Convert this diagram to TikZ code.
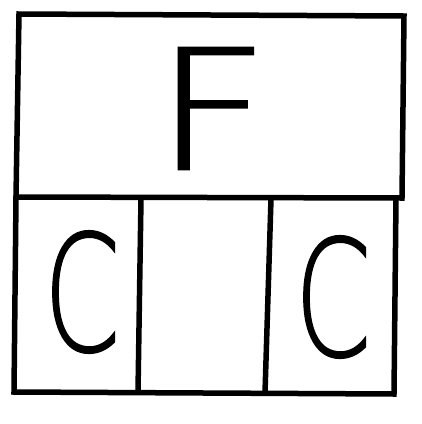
\documentclass[tikz,border=0pt]{standalone}
\usepackage{fontspec}
\newfontfamily\ffont[FakeBold=1.2]{DejaVu Sans ExtraLight}
\newfontfamily\cfont[FakeBold=1]{DejaVu Sans ExtraLight}
\tikzset{
  frame/.style={line width=5.5pt, line join=miter, line cap=rect},
  letter/.style={inner sep=0pt, outer sep=0pt, anchor=center}
}
\begin{document}
\begin{tikzpicture}[x=1pt,y=-1pt]
\useasboundingbox (0,0) rectangle (422,424);
% upper box
\draw[frame] (19,14) -- (404,16) -- (402,198) -- (16,197) -- cycle;
% lower box
\draw[frame] (16,198) -- (14,392) -- (394,394) -- (396,199);
\draw[frame] (141,199) -- (138,392);
\draw[frame] (271,199) -- (265,393);
\node[letter, xscale=1.2] (f) at (212,108.5) {\fontsize{167pt}{167pt}\selectfont\ffont F};
\node[letter, xscale=0.68] (c1) at (82,292) {\fontsize{162pt}{162pt}\selectfont\cfont C};
\node[letter, xscale=0.68] (c2) at (333,297) {\fontsize{162pt}{162pt}\selectfont\cfont C};
\end{tikzpicture}
\end{document}
